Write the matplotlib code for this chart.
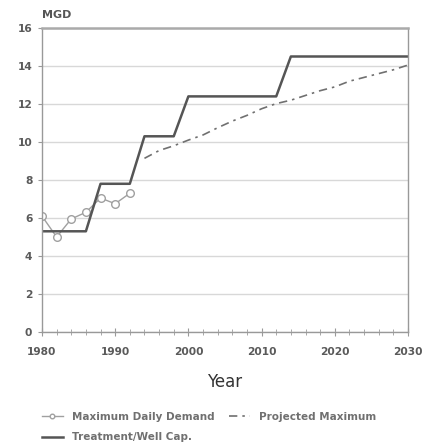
import matplotlib
matplotlib.use("Agg")
import matplotlib.pyplot as plt
from matplotlib.ticker import MultipleLocator

# Data
demand_years = [1980, 1982, 1984, 1986, 1988, 1990, 1992]
demand_values = [6.1, 5.0, 5.95, 6.3, 7.05, 6.75, 7.3]

capacity_years = [1980, 1986, 1988, 1992, 1994, 1998, 2000, 2012, 2014, 2030]
capacity_values = [5.3, 5.3, 7.8, 7.8, 10.3, 10.3, 12.4, 12.4, 14.5, 14.5]

proj_years = [1994, 1996, 1998, 2000, 2002, 2004, 2006, 2008, 2010, 2012,
              2014, 2016, 2018, 2020, 2022, 2024, 2026, 2028, 2030]
proj_values = [9.14, 9.55, 9.8, 10.1, 10.37, 10.75, 11.1, 11.4, 11.75, 12.02,
               12.2, 12.45, 12.7, 12.9, 13.2, 13.4, 13.6, 13.8, 14.05]

x_ticks = [1980, 1990, 2000, 2010, 2020, 2030]
y_ticks = [0, 2, 4, 6, 8, 10, 12, 14, 16]

plt.rcParams['font.family'] = ['DejaVu Sans']

fig = plt.figure(figsize=(4.31, 4.43), dpi=100)
ax = fig.add_axes([0.0974, 0.2506, 0.8492, 0.6862])

ax.set_xlim(1980, 2030)
ax.set_ylim(0, 16)
ax.set_xticks(x_ticks)
ax.set_yticks(y_ticks)
ax.xaxis.set_minor_locator(MultipleLocator(2))
ax.grid(axis='y', color='#d8d8d8', linewidth=1.0)
ax.set_axisbelow(True)

for s in ['left', 'bottom', 'right']:
    ax.spines[s].set_color('#999999')
    ax.spines[s].set_linewidth(1.0)
ax.spines['top'].set_color('#aaaaaa')
ax.spines['top'].set_linewidth(1.8)

ax.tick_params(axis='x', which='both', direction='inout', colors='#999999',
               labelcolor='#5a5a5a', labelsize=7.7, pad=8)
ax.tick_params(axis='x', which='major', length=6)
ax.tick_params(axis='x', which='minor', length=4)
ax.tick_params(axis='y', direction='out', length=3, colors='#999999',
               labelcolor='#5a5a5a', labelsize=7.7, pad=4)
for lbl in ax.get_xticklabels() + ax.get_yticklabels():
    lbl.set_fontweight('bold')

l1, = ax.plot(demand_years, demand_values, color='#a0a0a0', linewidth=1.0,
              marker='o', markersize=5.5, markerfacecolor='white',
              markeredgecolor='#a0a0a0', markeredgewidth=1.0,
              label='Maximum Daily Demand')
l3, = ax.plot(proj_years, proj_values, color='#707070', linewidth=1.2,
              linestyle=(0, (5, 3, 1.5, 3)), label='Projected Maximum')
l2, = ax.plot(capacity_years, capacity_values, color='#555555', linewidth=1.8,
              label='Treatment/Well Cap.')

ax.text(0.0, 1.025, 'MGD', transform=ax.transAxes, fontsize=8,
        fontweight='bold', color='#555555', ha='left', va='bottom')
ax.set_xlabel('Year', fontsize=12, color='#333333', labelpad=11)

leg = fig.legend(handles=[l1, l2, l3], loc='upper left',
                 bbox_to_anchor=(0.097, 0.071), ncol=2, frameon=False,
                 prop={'size': 7.5, 'weight': 'bold'}, labelcolor='#707070',
                 handlelength=2.0, handletextpad=0.9, columnspacing=1.4,
                 borderaxespad=0, borderpad=0, labelspacing=1.05,
                 markerscale=0.6)

fig.savefig('out.png', dpi=100, facecolor='white')
